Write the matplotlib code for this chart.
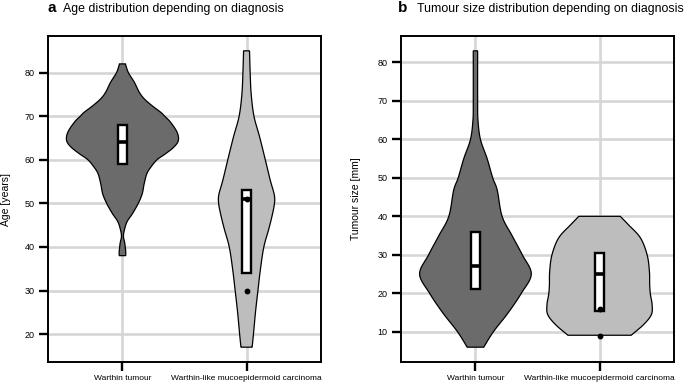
import numpy as np
import matplotlib
matplotlib.use("Agg")
import matplotlib.pyplot as plt
from matplotlib.patches import Rectangle

plt.rcParams['font.family'] = ['Liberation Sans', 'DejaVu Sans']

# categories
groups = ['Warthin tumour', 'Warthin-like mucoepidermoid carcinoma']
fills = ['#6b6b6b', '#bdbdbd']

# panel a: age, violin outline (y, relative half width)
age_wt_y = [38, 39, 40.9, 42.4, 43.9, 45.8, 47.7, 50, 52.2, 54.5, 56.8, 58.3, 60, 61.4,
            62.9, 64.4, 66.3, 68.6, 70, 70.9, 72.4, 74, 75.5, 77.8, 80, 82]
age_wt_w = [0.058, 0.058, 0.041, 0.018, 0.035, 0.083, 0.182, 0.283, 0.354, 0.389, 0.437,
            0.508, 0.619, 0.773, 0.920, 1.0, 0.979, 0.862, 0.756, 0.685, 0.531, 0.389,
            0.301, 0.212, 0.106, 0.053]
age_wl_y = [17, 20, 25, 30, 35, 40, 44.2, 47.3, 50, 52, 55.3, 60, 65.2, 70, 75.1, 80, 85]
age_wl_w = [0.10, 0.124, 0.16, 0.204, 0.25, 0.31, 0.40, 0.46, 0.50, 0.496, 0.425, 0.336,
            0.235, 0.133, 0.083, 0.065, 0.053]
age_box = [(59, 64, 68), (34, 51, 53)]
age_points = [[], [51, 30]]

# panel b: tumour size
size_wt_y = [6, 10, 15, 20, 25, 30, 35, 40, 46.8, 50, 55, 60, 65, 70, 83]
size_wt_w = [0.148, 0.321, 0.589, 0.821, 1.0, 0.839, 0.655, 0.477, 0.39, 0.309, 0.209,
             0.089, 0.045, 0.039, 0.039]
size_wl_y = [9.1, 11.9, 14.5, 17.1, 19.7, 22.2, 25.7, 30, 34.4, 37.8, 40]
size_wl_w = [0.566, 0.791, 0.929, 0.941, 0.911, 0.898, 0.893, 0.852, 0.732, 0.518, 0.371]
size_box = [(21, 27, 36), (15.5, 25, 30.5)]
size_points = [[], [16, 9]]


def smooth(y, w, n=16):
    # catmull-rom through the read points
    p = np.column_stack([y, w]).astype(float)
    p = np.vstack([p[0], p, p[-1]])
    out = []
    t = np.linspace(0, 1, n, endpoint=False)[:, None]
    for i in range(1, len(p) - 2):
        p0, p1, p2, p3 = p[i - 1], p[i], p[i + 1], p[i + 2]
        seg = 0.5 * (2 * p1 + (-p0 + p2) * t + (2 * p0 - 5 * p1 + 4 * p2 - p3) * t ** 2
                     + (-p0 + 3 * p1 - 3 * p2 + p3) * t ** 3)
        out.append(seg)
    out.append(p[-2][None])
    s = np.vstack(out)
    return s[:, 0], s[:, 1]


def violin(ax, pos, y, w, color):
    ys, ws = smooth(y, w)
    ws = np.clip(ws, 0.005, None) * 0.45
    xs = np.concatenate([pos - ws, (pos + ws)[::-1]])
    yy = np.concatenate([ys, ys[::-1]])
    ax.fill(xs, yy, facecolor=color, edgecolor='black', lw=0.9, zorder=3)


def box(ax, pos, stats, pts):
    q1, med, q3 = stats
    bw = 0.07
    ax.add_patch(Rectangle((pos - bw / 2, q1), bw, q3 - q1, facecolor='white',
                           edgecolor='black', lw=1.7, zorder=4))
    ax.plot([pos - bw / 2, pos + bw / 2], [med, med], color='black', lw=2.6,
            solid_capstyle='butt', zorder=5)
    if pts:
        ax.plot([pos] * len(pts), pts, 'o', color='black', ms=3.2, zorder=6)


def style(ax, ylim, yticks, ylabel):
    ax.set_xlim(0.4, 2.6)
    ax.set_ylim(*ylim)
    ax.set_xticks([1, 2])
    ax.set_xticklabels(groups, fontsize=6)
    ax.set_yticks(yticks)
    ax.set_yticklabels([str(v) for v in yticks], fontsize=6.5)
    ax.tick_params(axis='both', length=6.5, width=1.7, color='black', pad=3)
    ax.grid(True, color='#d6d6d6', lw=1.9, zorder=0)
    ax.set_axisbelow(True)
    for s in ax.spines.values():
        s.set_linewidth(1.4)
        s.set_color('black')
    ax.set_ylabel(ylabel, fontsize=7.5)


fig = plt.figure(figsize=(6.84, 3.86), dpi=100)
ax1 = fig.add_axes([48 / 684, 24 / 386, 273 / 684, 326 / 386])
ax2 = fig.add_axes([401 / 684, 24 / 386, 273 / 684, 326 / 386])

violin(ax1, 1, age_wt_y, age_wt_w, fills[0])
violin(ax1, 2, age_wl_y, age_wl_w, fills[1])
for i in range(2):
    box(ax1, i + 1, age_box[i], age_points[i])
style(ax1, (13.6, 88.4), [20, 30, 40, 50, 60, 70, 80], 'Age [years]')

violin(ax2, 1, size_wt_y, size_wt_w, fills[0])
violin(ax2, 2, size_wl_y, size_wl_w, fills[1])
for i in range(2):
    box(ax2, i + 1, size_box[i], size_points[i])
style(ax2, (2.15, 86.85), [10, 20, 30, 40, 50, 60, 70, 80], 'Tumour size [mm]')

ax1.yaxis.set_label_coords(-0.135, 0.5)
ax2.yaxis.set_label_coords(-0.147, 0.5)

fig.text(47 / 684, 1 - 12 / 386, 'a', fontsize=11, fontweight='bold', va='baseline')
fig.text(63 / 684, 1 - 12 / 386, 'Age distribution depending on diagnosis', fontsize=8.9,
         va='baseline')
fig.text(398 / 684, 1 - 12 / 386, 'b', fontsize=11, fontweight='bold', va='baseline')
fig.text(417 / 684, 1 - 12 / 386, 'Tumour size distribution depending on diagnosis',
         fontsize=8.9, va='baseline')

fig.savefig('out.png', dpi=100)
